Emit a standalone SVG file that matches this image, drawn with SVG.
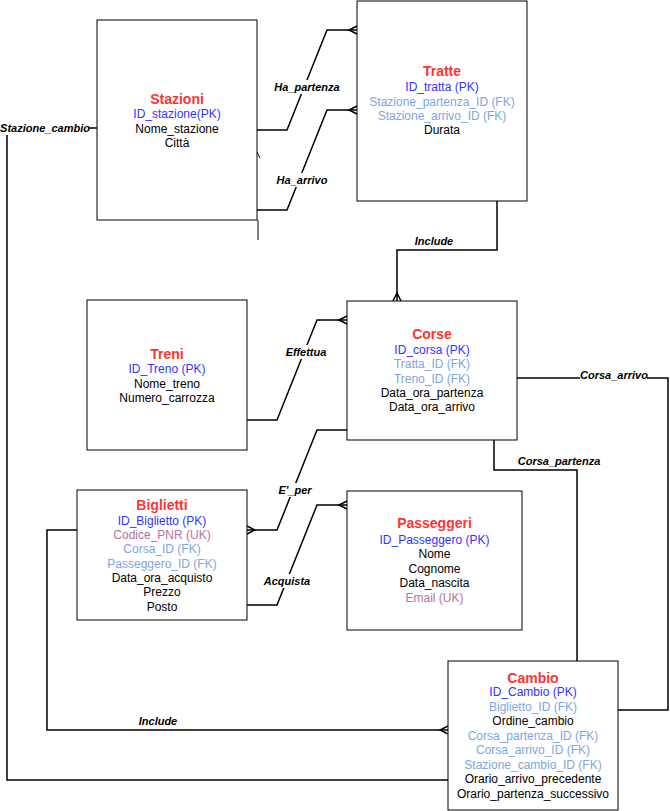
<svg xmlns="http://www.w3.org/2000/svg" width="670" height="811" viewBox="0 0 670 811">
<style>
.box{fill:#fff;stroke:#000;stroke-width:1}
text{font-family:"Liberation Sans",Arial,sans-serif;font-size:12px;text-anchor:middle;fill:#000}
.t{font-size:14px;font-weight:bold;fill:#FF3333}
.pk{fill:#3333FF}
.fk{fill:#7EA6E0}
.uk{fill:#B5739D}
.c{fill:none;stroke:#000;stroke-width:1.5}
.lb{font-size:11px;font-weight:bold;font-style:italic}
.bg{fill:#fff}
</style>
<defs>
<marker id="many" viewBox="-10 -6 12 12" markerWidth="12" markerHeight="12" refX="0" refY="0" orient="auto" markerUnits="userSpaceOnUse">
<path d="M0,-4 L-8,0 L0,4" fill="none" stroke="#000" stroke-width="1.5"/>
</marker>
</defs>
<rect width="670" height="811" fill="#fff"/>
<g id="connectors">
<path class="c" d="M257,130 H287 L327,30 H357" marker-end="url(#many)"/>
<path class="c" d="M257,210 H287 L327,110 H357" marker-end="url(#many)"/>
<path class="c" d="M97,128 H7 V780 H448"/>
<path class="c" d="M497,201 V250 H397 V301" marker-end="url(#many)"/>
<path class="c" d="M247,420 H277 L317,320 H347" marker-end="url(#many)"/>
<path class="c" d="M347,430 H317 L277,530 H247" marker-end="url(#many)"/>
<path class="c" d="M247,605 H277 L317,505 H347" marker-end="url(#many)"/>
<path class="c" d="M77,530 H47 V730 H448" marker-end="url(#many)"/>
<path class="c" d="M517,378 H668 V710 H618"/>
<path class="c" d="M494,440 V470 H577 V661"/>
<path fill="none" stroke="#000" stroke-width="1" d="M258,220 V240 M257,152 L260,158"/>
<rect class="bg" x="274" y="80" width="66" height="14"/>
<text class="lb" x="307" y="91">Ha_partenza</text>
<rect class="bg" x="277" y="173" width="50" height="14"/>
<text class="lb" x="302" y="184">Ha_arrivo</text>
<rect class="bg" x="0" y="121" width="89" height="14"/>
<text class="lb" x="45" y="132">Stazione_cambio</text>
<text class="lb" x="434" y="245">Include</text>
<rect class="bg" x="286" y="345" width="40" height="14"/>
<text class="lb" x="306" y="356">Effettua</text>
<rect class="bg" x="279" y="483" width="32" height="14"/>
<text class="lb" x="295" y="494">E'_per</text>
<rect class="bg" x="263" y="574" width="47" height="14"/>
<text class="lb" x="287" y="585">Acquista</text>
<rect class="bg" x="580" y="368" width="67" height="14"/>
<text class="lb" x="614" y="379">Corsa_arrivo</text>
<text class="lb" x="559" y="465">Corsa_partenza</text>
<text class="lb" x="158" y="725">Include</text>
</g>
<g id="stazioni">
<rect class="box" x="97" y="20" width="160" height="200"/>
<text class="t" x="177" y="104">Stazioni</text>
<text class="pk" x="177" y="118">ID_stazione(PK)</text>
<text x="177" y="133">Nome_stazione</text>
<text x="177" y="147">Città</text>
</g>
<g id="tratte">
<rect class="box" x="357" y="1" width="170" height="200"/>
<text class="t" x="442" y="76">Tratte</text>
<text class="pk" x="442" y="91">ID_tratta (PK)</text>
<text class="fk" x="442" y="106">Stazione_partenza_ID (FK)</text>
<text class="fk" x="442" y="120">Stazione_arrivo_ID (FK)</text>
<text x="442" y="134">Durata</text>
</g>
<g id="treni">
<rect class="box" x="87" y="300" width="160" height="150"/>
<text class="t" x="167" y="359">Treni</text>
<text class="pk" x="167" y="372.5">ID_Treno (PK)</text>
<text x="167" y="388">Nome_treno</text>
<text x="167" y="402">Numero_carrozza</text>
</g>
<g id="corse">
<rect class="box" x="347" y="301" width="170" height="139"/>
<text class="t" x="432" y="339">Corse</text>
<text class="pk" x="432" y="353.5">ID_corsa (PK)</text>
<text class="fk" x="432" y="368">Tratta_ID (FK)</text>
<text class="fk" x="432" y="383">Treno_ID (FK)</text>
<text x="432" y="397">Data_ora_partenza</text>
<text x="432" y="411">Data_ora_arrivo</text>
</g>
<g id="biglietti">
<rect class="box" x="77" y="490" width="170" height="130"/>
<text class="t" x="162" y="510">Biglietti</text>
<text class="pk" x="162" y="525">ID_Biglietto (PK)</text>
<text class="uk" x="162" y="538.5">Codice_PNR (UK)</text>
<text class="fk" x="162" y="553">Corsa_ID (FK)</text>
<text class="fk" x="162" y="567.5">Passeggero_ID (FK)</text>
<text x="162" y="582">Data_ora_acquisto</text>
<text x="162" y="596">Prezzo</text>
<text x="162" y="611">Posto</text>
</g>
<g id="passeggeri">
<rect class="box" x="347" y="491" width="175" height="139"/>
<text class="t" x="434.5" y="528">Passeggeri</text>
<text class="pk" x="434.5" y="544">ID_Passeggero (PK)</text>
<text x="434.5" y="557.5">Nome</text>
<text x="434.5" y="573">Cognome</text>
<text x="434.5" y="587">Data_nascita</text>
<text class="uk" x="434.5" y="601.5">Email (UK)</text>
</g>
<g id="cambio">
<rect class="box" x="448" y="661" width="170" height="149"/>
<text class="t" x="533" y="683">Cambio</text>
<text class="pk" x="533" y="696">ID_Cambio (PK)</text>
<text class="fk" x="533" y="711">Biglietto_ID (FK)</text>
<text x="533" y="725">Ordine_cambio</text>
<text class="fk" x="533" y="740">Corsa_partenza_ID (FK)</text>
<text class="fk" x="533" y="754">Corsa_arrivo_ID (FK)</text>
<text class="fk" x="533" y="769">Stazione_cambio_ID (FK)</text>
<text x="533" y="783">Orario_arrivo_precedente</text>
<text x="533" y="798">Orario_partenza_successivo</text>
</g>
</svg>
